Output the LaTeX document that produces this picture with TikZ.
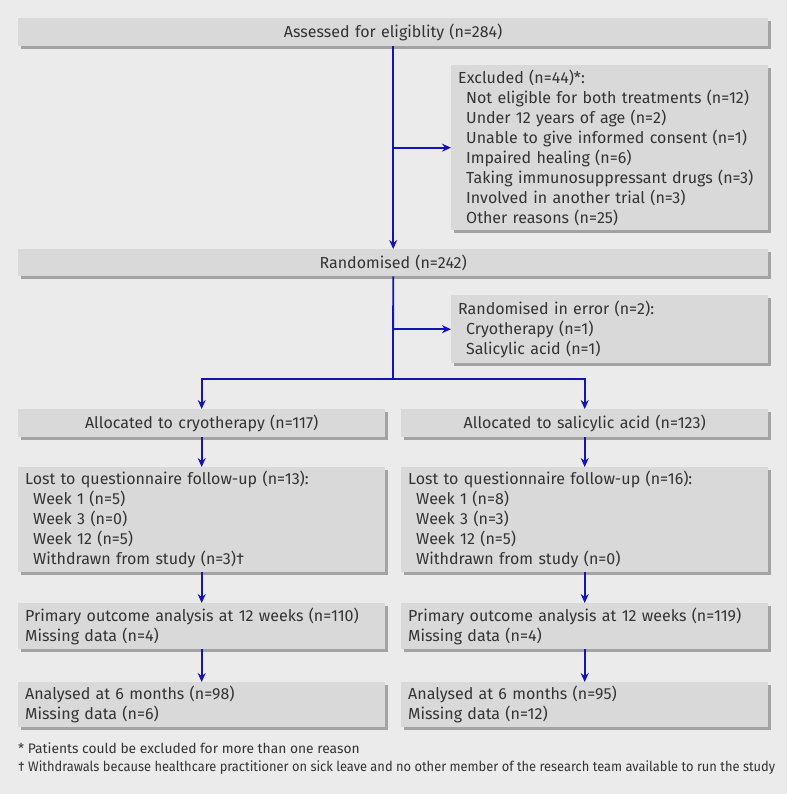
\documentclass[tikz,border=0pt]{standalone}
\usepackage{fontspec}
\setmainfont{Fira Sans}
\usetikzlibrary{arrows.meta,shadows}
\definecolor{bg}{HTML}{EBEBEB}
\definecolor{boxfill}{HTML}{D9D9D9}
\definecolor{shadowc}{HTML}{A3A3A3}
\definecolor{arrowc}{HTML}{1414B4}
\definecolor{txt}{HTML}{333333}
\begin{document}
\begin{tikzpicture}[x=1pt,y=-1pt,
  box/.style={fill=boxfill, draw=none, inner ysep=0pt, inner xsep=7pt, anchor=north west,
    drop shadow={shadow xshift=3pt,shadow yshift=-3pt,fill=shadowc,opacity=1},
    text=txt, font=\fontsize{16}{20}\selectfont},
  cbox/.style={box, align=center, text width=#1-14pt, minimum width=#1},
  lbox/.style={box, align=left, text width=#1-14pt, minimum width=#1},
  plain/.style={draw=arrowc, line width=1.8pt},
  link/.style={plain, -{Stealth[length=9pt,width=8pt]}},
  foot/.style={anchor=west, inner sep=0pt, text=txt, font=\fontsize{13.8}{18}\selectfont}]
\fill[bg] (0,0) rectangle (787,794);
\useasboundingbox (0,0) rectangle (787,794);

\node[cbox=750pt, minimum height=28pt] (assess) at (18,18) {Assessed for eligiblity (n=284)};
\node[lbox=317pt, minimum height=165pt] (excl) at (451,65) {Excluded (n=44)*:\\
\hspace*{8pt}Not eligible for both treatments (n=12)\\
\hspace*{8pt}Under 12 years of age (n=2)\\
\hspace*{8pt}Unable to give informed consent (n=1)\\
\hspace*{8pt}Impaired healing (n=6)\\
\hspace*{8pt}Taking immunosuppressant drugs (n=3)\\
\hspace*{8pt}Involved in another trial (n=3)\\
\hspace*{8pt}Other reasons (n=25)};
\node[cbox=750pt, minimum height=27pt] (rand) at (18,249) {Randomised (n=242)};
\node[lbox=317pt, minimum height=68pt] (err) at (451,295) {Randomised in error (n=2):\\
\hspace*{8pt}Cryotherapy (n=1)\\
\hspace*{8pt}Salicylic acid (n=1)};

\node[cbox=367pt, minimum height=28pt] (allocL) at (18,409) {Allocated to cryotherapy (n=117)};
\node[cbox=367pt, minimum height=28pt] (allocR) at (401,409) {Allocated to salicylic acid (n=123)};

\node[lbox=367pt, minimum height=105pt] (lostL) at (18,467) {Lost to questionnaire follow-up (n=13):\\
\hspace*{8pt}Week 1 (n=5)\\
\hspace*{8pt}Week 3 (n=0)\\
\hspace*{8pt}Week 12 (n=5)\\
\hspace*{8pt}Withdrawn from study (n=3)†};
\node[lbox=367pt, minimum height=105pt] (lostR) at (401,467) {Lost to questionnaire follow-up (n=16):\\
\hspace*{8pt}Week 1 (n=8)\\
\hspace*{8pt}Week 3 (n=3)\\
\hspace*{8pt}Week 12 (n=5)\\
\hspace*{8pt}Withdrawn from study (n=0)};

\node[lbox=367pt, minimum height=46pt] (primL) at (18,603) {Primary outcome analysis at 12 weeks (n=110)\\Missing data (n=4)};
\node[lbox=367pt, minimum height=46pt] (primR) at (401,603) {Primary outcome analysis at 12 weeks (n=119)\\Missing data (n=4)};

\node[lbox=367pt, minimum height=45pt] (analL) at (18,682) {Analysed at 6 months (n=98)\\Missing data (n=6)};
\node[lbox=367pt, minimum height=45pt] (analR) at (401,682) {Analysed at 6 months (n=95)\\Missing data (n=12)};

\node[foot] (f1) at (18,748) {* Patients could be excluded for more than one reason};
\node[foot] (f2) at (18,768) {\resizebox{757pt}{\height}{† Withdrawals because healthcare practitioner on sick leave and no other member of the research team available to run the study}};

% connectors
\draw[link] (assess.south) -- (rand.north);
\coordinate (e1) at (assess.south |- excl.west);
\draw[link] (e1) -- (excl.west);
\coordinate (split) at (393,379);
\draw[plain] (rand.south) -- (split);
\coordinate (e2) at (rand.south |- err.west);
\draw[link] (e2) -- (err.west);
\draw[link] (split) -| (allocL.north);
\draw[link] (split) -| (allocR.north);
\draw[link] (allocL.south) -- (lostL.north);
\draw[link] (allocR.south) -- (lostR.north);
\draw[link] (lostL.south) -- (primL.north);
\draw[link] (lostR.south) -- (primR.north);
\draw[link] (primL.south) -- (analL.north);
\draw[link] (primR.south) -- (analR.north);
\end{tikzpicture}
\end{document}
